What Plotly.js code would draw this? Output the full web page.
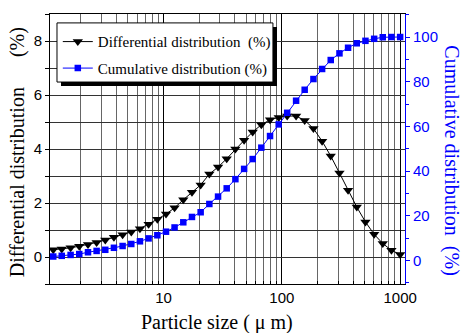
<!DOCTYPE html>
<html>
<head>
<meta charset="utf-8">
<script src="https://cdn.plot.ly/plotly-3.0.1.min.js"></script>
<style>html,body{margin:0;padding:0;background:#fff;}#chart{width:464px;height:333px;}</style>
</head>
<body>
<div id="chart"></div>
<script>
// Particle size (µm), log-spaced sample points
var sizes = [1.17,1.38,1.64,1.94,2.30,2.72,3.22,3.81,4.51,5.34,6.32,7.48,8.87,10.5,12.4,14.7,17.4,20.6,24.4,28.9,34.2,40.5,48.0,56.7,67.1,79.5,94.1,111,132,156,185,219,259,307,363,430,509,603,713,844,1000];
// Differential distribution (%)
var differential = [0.27,0.30,0.34,0.40,0.46,0.54,0.63,0.73,0.82,0.93,1.05,1.21,1.40,1.59,1.82,2.12,2.40,2.67,3.07,3.33,3.64,4.00,4.32,4.63,4.90,5.08,5.17,5.22,5.22,5.06,4.76,4.29,3.74,3.11,2.47,1.85,1.30,0.84,0.50,0.25,0.09];
// Cumulative distribution (%)
var cumulative = [1.8,2.1,2.5,2.9,3.7,4.3,4.8,5.7,6.5,7.4,8.6,9.9,11.3,12.9,14.8,17.1,19.5,21.6,25.3,28.6,32.3,36.4,41.0,45.4,50.5,55.7,60.9,66.1,71.5,76.4,81.2,85.7,89.7,92.7,95.2,97.2,98.3,99.2,99.9,100,100];
var xTickVals = [10, 100, 1000];
var xTickText = ['10', '100', '1000'];
var seriesNames = ['Differential distribution  (%)', 'Cumulative distribution (%)'];
var xTitle = 'Particle size ( \u03bc m)';
var yTitle = 'Differential distribution \u3000 (%)';
var y2Title = 'Cumulative distribution  (%)';

var BLUE = 'rgb(0,0,255)';
var serif = 'Liberation Serif, Times New Roman, serif';
var sans = 'Liberation Sans, Arial, sans-serif';

var traces = [
  {
    x: sizes, y: differential, type: 'scatter', mode: 'lines+markers',
    name: seriesNames[0], legendgroup: 'a',
    line: {color: '#000', width: 1},
    marker: {symbol: 'triangle-down', size: 9, color: '#000'}
  },
  {
    x: sizes, y: cumulative, type: 'scatter', mode: 'lines+markers', yaxis: 'y2',
    name: seriesNames[1], legendgroup: 'b',
    line: {color: BLUE, width: 1},
    marker: {symbol: 'square', size: 6.5, color: BLUE}
  }
];

var layout = {
  width: 464, height: 333,
  margin: {l: 50, r: 59, t: 14, b: 49, pad: 0},
  paper_bgcolor: '#fff', plot_bgcolor: '#fff',
  showlegend: true,
  legend: {
    x: 0.022, y: 0.958, xanchor: 'left', yanchor: 'top',
    bgcolor: 'rgba(0,0,0,0)', borderwidth: 0,
    font: {family: serif, size: 15, color: '#000'},
    traceorder: 'grouped', tracegroupgap: 4
  },
  xaxis: {
    type: 'log', range: [0.0406, 3.041],
    tickvals: xTickVals, ticktext: xTickText,
    ticks: 'inside', ticklen: 3, tickcolor: '#000',
    showgrid: true, gridcolor: '#000', gridwidth: 1,
    minor: {dtick: 'D1', showgrid: true, gridcolor: '#666', gridwidth: 1, ticks: 'inside', ticklen: 3, tickcolor: '#000'},
    showline: true, linecolor: '#000', linewidth: 1, mirror: true,
    zeroline: false,
    tickfont: {family: sans, size: 15, color: '#000'}
  },
  yaxis: {
    range: [-1, 9], tick0: 0, dtick: 2,
    ticks: 'outside', ticklen: 4, tickcolor: '#000',
    showgrid: true, gridcolor: '#333', gridwidth: 1,
    minor: {dtick: 1, showgrid: true, gridcolor: '#333', gridwidth: 1, ticks: 'outside', ticklen: 4, tickcolor: '#000'},
    showline: true, linecolor: '#000', linewidth: 1,
    zeroline: false,
    tickfont: {family: sans, size: 15, color: '#000'}
  },
  yaxis2: {
    overlaying: 'y', side: 'right',
    range: [-10.5, 110.3], tick0: 0, dtick: 20,
    ticks: 'outside', ticklen: 4, tickcolor: BLUE,
    minor: {dtick: 10, ticks: 'outside', ticklen: 3, tickcolor: BLUE, showgrid: false},
    showgrid: false, zeroline: false,
    showline: true, linecolor: BLUE, linewidth: 1,
    tickfont: {family: sans, size: 15, color: BLUE}
  },
  shapes: [
    {type: 'rect', xref: 'paper', yref: 'paper', x0: 0.031, x1: 0.6394, y0: 0.733, y1: 0.952,
     fillcolor: '#000', line: {width: 0}, layer: 'above'},
    {type: 'rect', xref: 'paper', yref: 'paper', x0: 0.0197, x1: 0.628, y0: 0.748, y1: 0.967,
     fillcolor: '#fff', line: {color: '#000', width: 1}, layer: 'above'}
  ],
  annotations: [
    {text: xTitle, xref: 'paper', yref: 'paper', x: 0.47, y: -0.141, xanchor: 'center', yanchor: 'middle',
     showarrow: false, font: {family: serif, size: 20, color: '#000'}},
    {text: yTitle, xref: 'paper', yref: 'paper', x: -0.093, y: 0.488, xanchor: 'center', yanchor: 'middle',
     textangle: -90, showarrow: false, font: {family: serif, size: 20, color: '#000'}},
    {text: y2Title, xref: 'paper', yref: 'paper', x: 1.132, y: 0.455, xanchor: 'center', yanchor: 'middle',
     textangle: 90, showarrow: false, font: {family: serif, size: 20, color: BLUE}}
  ]
};

Plotly.newPlot('chart', traces, layout, {displayModeBar: false, staticPlot: true});
</script>
</body>
</html>
